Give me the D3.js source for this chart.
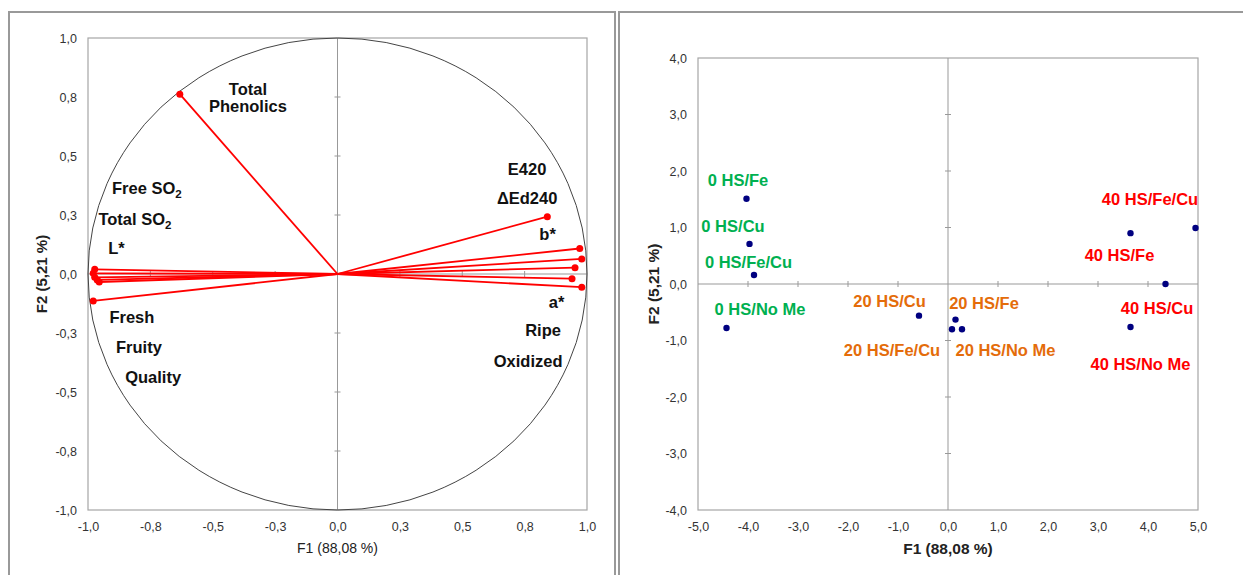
<!DOCTYPE html>
<html>
<head>
<meta charset="utf-8">
<script src="https://cdn.jsdelivr.net/npm/d3@7"></script>
<style>
  body { margin: 0; background: #fff; }
  svg { display: block; font-family: "Liberation Sans", Arial, sans-serif; }
</style>
</head>
<body>
<svg id="chart" width="1243" height="575"></svg>
<script>
// loadings on F1/F2 (correlation circle, left)
const loadF1 = [-0.632, 0.841, 0.971, 0.979, 0.952, 0.940, 0.979, -0.973, -0.979, -0.973, -0.963, -0.955, -0.979];
const loadF2 = [0.762, 0.243, 0.108, 0.064, 0.027, -0.020, -0.056, 0.020, 0.003, -0.014, -0.025, -0.034, -0.114];

// variable names and where their text boxes sit (in F1/F2 units)
const varLabels = ["Total", "Phenolics", "E420", "ΔEd240", "b*", "a*", "Ripe", "Oxidized",
                   "Free SO_2", "Total SO_2", "L*", "Fresh", "Fruity", "Quality"];
const varLabelF1 = [-0.359, -0.359, 0.760, 0.760, 0.842, 0.878, 0.824, 0.764,
                    -0.764, -0.812, -0.886, -0.824, -0.796, -0.739];
const varLabelF2 = [0.785, 0.709, 0.445, 0.322, 0.169, -0.121, -0.237, -0.369,
                    0.364, 0.233, 0.108, -0.185, -0.309, -0.439];

// sample scores (right)
const scoreF1 = [-4.03, -3.97, -3.88, -4.43, -0.58, 0.15, 0.08, 0.28, 3.65, 4.95, 4.35, 3.65];
const scoreF2 = [1.51, 0.71, 0.16, -0.78, -0.56, -0.63, -0.80, -0.80, 0.90, 0.99, 0.00, -0.76];

// sample labels
const sampleLabels = ["0 HS/Fe", "0 HS/Cu", "0 HS/Fe/Cu", "0 HS/No Me",
                      "20 HS/Cu", "20 HS/Fe/Cu", "20 HS/Fe", "20 HS/No Me",
                      "40 HS/Fe/Cu", "40 HS/Fe", "40 HS/Cu", "40 HS/No Me"];
const sampleGroup = [0, 0, 0, 0, 20, 20, 20, 20, 40, 40, 40, 40];
const sampleLabelF1 = [-4.20, -4.30, -3.99, -3.76, -1.17, -1.12, 0.72, 1.15, 4.04, 3.43, 4.18, 3.85];
const sampleLabelF2 = [1.83, 1.03, 0.38, -0.44, -0.31, -1.17, -0.34, -1.17, 1.50, 0.51, -0.42, -1.42];

const leftTicks = d3.range(-1, 1.001, 0.25);
const rightXTicks = d3.range(-5, 5.001, 1);
const rightYTicks = d3.range(-4, 4.001, 1);

const groupColor = { 0: "#00b050", 20: "#e46c0a", 40: "#ff0000" };
const fmt = v => v.toFixed(1).replace(".", ",");

const svg = d3.select("#chart");

// outer frames
svg.append("path")
  .attr("d", "M9,575V12H615V575")
  .attr("fill", "none").attr("stroke", "#999").attr("stroke-width", 2);
svg.append("path")
  .attr("d", "M619,575V12H1243")
  .attr("fill", "none").attr("stroke", "#999").attr("stroke-width", 2);

// draws plot box, zero lines with crossing ticks and outer tick labels
function frame(x, y, xt, yt) {
  const g = svg.append("g");
  const [x0, x1] = x.range(), [y0, y1] = y.range();
  g.append("rect")
    .attr("x", x0).attr("y", y1).attr("width", x1 - x0).attr("height", y0 - y1)
    .attr("fill", "none").attr("stroke", "#a6a6a6").attr("stroke-width", 1.2);
  g.append("line").attr("x1", x0).attr("x2", x1).attr("y1", y(0)).attr("y2", y(0))
    .attr("stroke", "#999");
  g.append("line").attr("x1", x(0)).attr("x2", x(0)).attr("y1", y0).attr("y2", y1)
    .attr("stroke", "#999");
  g.selectAll(".tx").data(xt.filter(v => v !== 0 && v !== xt[0] && v !== xt[xt.length - 1]))
    .enter().append("line")
    .attr("x1", d => x(d)).attr("x2", d => x(d))
    .attr("y1", y(0) - 3).attr("y2", y(0) + 3).attr("stroke", "#999");
  g.selectAll(".ty").data(yt.filter(v => v !== 0 && v !== yt[0] && v !== yt[yt.length - 1]))
    .enter().append("line")
    .attr("y1", d => y(d)).attr("y2", d => y(d))
    .attr("x1", x(0) - 3).attr("x2", x(0) + 3).attr("stroke", "#999");

  const ax = g.append("g").attr("transform", `translate(0,${y0})`)
    .call(d3.axisBottom(x).tickValues(xt).tickFormat(fmt).tickSize(0).tickPadding(12));
  const ay = g.append("g").attr("transform", `translate(${x0},0)`)
    .call(d3.axisLeft(y).tickValues(yt).tickFormat(fmt).tickSize(0).tickPadding(11));
  [ax, ay].forEach(a => {
    a.select(".domain").remove();
    a.selectAll("text").attr("font-size", 12.5).attr("fill", "#333")
      .attr("font-family", "'Liberation Sans', Arial, sans-serif");
  });
  return g;
}

function subText(sel, size) {
  sel.each(function (d) {
    const parts = d.split("_");
    const t = d3.select(this);
    t.append("tspan").text(parts[0]);
    if (parts[1]) t.append("tspan").attr("font-size", size * 0.7).attr("dy", 4).text(parts[1]);
  });
}

// ---------- left: correlation circle ----------
const xL = d3.scaleLinear().domain([-1, 1]).range([88, 587]);
const yL = d3.scaleLinear().domain([-1, 1]).range([510, 38]);
frame(xL, yL, leftTicks, leftTicks);

svg.append("ellipse")
  .attr("cx", xL(0)).attr("cy", yL(0))
  .attr("rx", xL(1) - xL(0)).attr("ry", yL(-1) - yL(0))
  .attr("fill", "none").attr("stroke", "#444").attr("stroke-width", 1);

const vec = svg.append("g");
vec.selectAll("line").data(loadF1).enter().append("line")
  .attr("x1", xL(0)).attr("y1", yL(0))
  .attr("x2", d => xL(d)).attr("y2", (d, i) => yL(loadF2[i]))
  .attr("stroke", "#ff0000").attr("stroke-width", 1.8);
vec.selectAll("circle").data(loadF1).enter().append("circle")
  .attr("cx", d => xL(d)).attr("cy", (d, i) => yL(loadF2[i]))
  .attr("r", 3.5).attr("fill", "#ff0000");

svg.append("g").selectAll("text").data(varLabels).enter().append("text")
  .attr("x", (d, i) => xL(varLabelF1[i])).attr("y", (d, i) => yL(varLabelF2[i]))
  .attr("dy", "0.35em").attr("text-anchor", "middle")
  .attr("font-size", 16.5).attr("font-weight", "bold").attr("fill", "#111")
  .call(subText, 16.5);

svg.append("text").attr("x", xL(0)).attr("y", 553)
  .attr("text-anchor", "middle").attr("font-size", 14).attr("fill", "#222")
  .text("F1 (88,08 %)");
svg.append("text").attr("transform", `translate(47,${yL(0)}) rotate(-90)`)
  .attr("text-anchor", "middle").attr("font-size", 15).attr("font-weight", "bold").attr("fill", "#222")
  .text("F2 (5,21 %)");

// ---------- right: sample scores ----------
const xR = d3.scaleLinear().domain([-5, 5]).range([698, 1198]);
const yR = d3.scaleLinear().domain([-4, 4]).range([510, 58]);
frame(xR, yR, rightXTicks, rightYTicks);

svg.append("g").selectAll("circle").data(scoreF1).enter().append("circle")
  .attr("cx", d => xR(d)).attr("cy", (d, i) => yR(scoreF2[i]))
  .attr("r", 3.2).attr("fill", "#000080");

svg.append("g").selectAll("text").data(sampleLabels).enter().append("text")
  .attr("x", (d, i) => xR(sampleLabelF1[i])).attr("y", (d, i) => yR(sampleLabelF2[i]))
  .attr("dy", "0.35em").attr("text-anchor", "middle")
  .attr("font-size", 16.5).attr("font-weight", "bold")
  .attr("fill", (d, i) => groupColor[sampleGroup[i]])
  .text(d => d);

svg.append("text").attr("x", xR(0)).attr("y", 554)
  .attr("text-anchor", "middle").attr("font-size", 15.5).attr("font-weight", "bold").attr("fill", "#222")
  .text("F1 (88,08 %)");
svg.append("text").attr("transform", `translate(659,${yR(0)}) rotate(-90)`)
  .attr("text-anchor", "middle").attr("font-size", 15.5).attr("font-weight", "bold").attr("fill", "#222")
  .text("F2 (5,21 %)");
</script>
</body>
</html>
